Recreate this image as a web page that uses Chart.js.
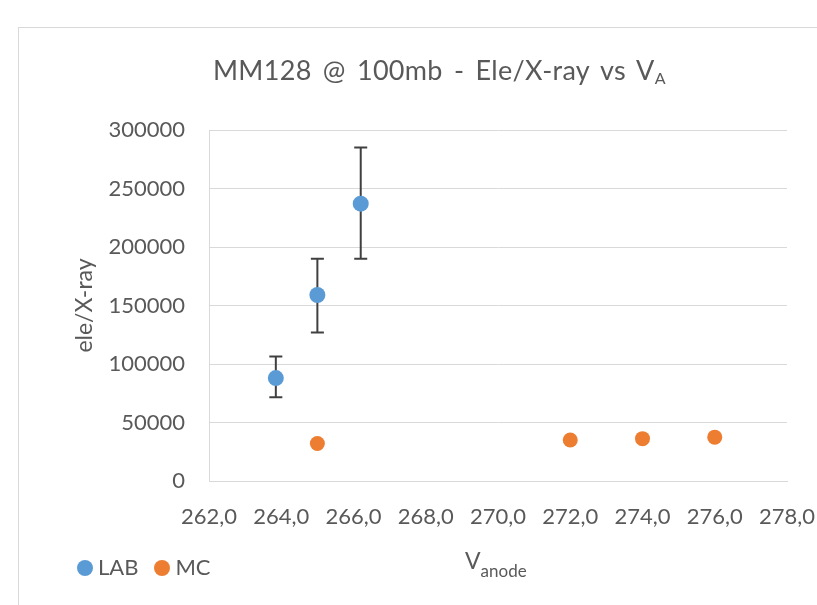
<!DOCTYPE html>
<html>
<head>
<meta charset="utf-8">
<script src="https://cdn.jsdelivr.net/npm/chart.js@4"></script>
<style>
  html, body { margin: 0; padding: 0; background: #fff; overflow: hidden; }
  #wrap { position: relative; width: 817px; height: 605px; font-family: Lato, "Open Sans", sans-serif; color: #595959; }
  #frame { position: absolute; left: 18px; top: 27px; width: 900px; height: 700px; border: 1px solid #d9d9d9; box-sizing: border-box; }
  canvas { position: absolute; left: 0; top: 0; }
  .title { position: absolute; left: 213px; top: 56px; font-size: 27px; line-height: 27px; word-spacing: 4px; letter-spacing: 0.3px; white-space: nowrap; }
  .title .sub { font-size: 16px; position: relative; top: 4px; }
  .xlabel { position: absolute; left: 465px; top: 549px; font-size: 23px; line-height: 23px; white-space: nowrap; }
  .xlabel .sub { font-size: 17px; position: relative; top: 8px; }
  .legend { position: absolute; left: 77px; top: 555px; font-size: 22px; line-height: 24px; white-space: nowrap; }
  .legend .item { display: inline-block; margin-right: 16px; }
  .legend .dot { display: inline-block; width: 16px; height: 16px; border-radius: 50%; vertical-align: -1px; margin-right: 5px; }
</style>
</head>
<body>
<div id="wrap">
  <div id="frame"></div>
  <canvas id="chart" width="817" height="605"></canvas>
  <div class="title">MM128 @ 100mb - Ele/X-ray vs V<span class="sub">A</span></div>
  <div class="xlabel">V<span class="sub">anode</span></div>
  <div class="legend" id="legend"></div>
</div>
<script>
// LAB series (with asymmetric error bars)
const labX = [263.85, 265.0, 266.2];
const labY = [88000, 159000, 237000];
const labErrHigh = [106500, 190000, 285000];
const labErrLow = [71500, 127000, 190000];

// MC series
const mcX = [265.0, 272.0, 274.0, 276.0];
const mcY = [32000, 35000, 36200, 37500];

const X_MIN = 262, X_MAX = 278, X_STEP = 2;
const Y_MIN = 0, Y_MAX = 300000, Y_STEP = 50000;

const LAB_COLOR = "#5b9bd5";
const MC_COLOR = "#ed7d31";
const ERR_COLOR = "#404040";
const TEXT_COLOR = "#595959";
const GRID_COLOR = "#d9d9d9";

const toPoints = (xs, ys) => xs.map((x, i) => ({ x, y: ys[i] }));

/** Draws the LAB error bars through the chart scales, underneath the markers. */
const errorBars = {
  id: "errorBars",
  beforeDatasetsDraw(chart) {
    const { ctx, scales: { x, y } } = chart;
    const cap = 6.5;
    ctx.save();
    ctx.strokeStyle = ERR_COLOR;
    ctx.lineWidth = 2;
    labX.forEach((v, i) => {
      const px = x.getPixelForValue(v);
      const top = y.getPixelForValue(labErrHigh[i]);
      const bot = y.getPixelForValue(labErrLow[i]);
      ctx.beginPath();
      ctx.moveTo(px, top); ctx.lineTo(px, bot);
      ctx.moveTo(px - cap, top); ctx.lineTo(px + cap, top);
      ctx.moveTo(px - cap, bot); ctx.lineTo(px + cap, bot);
      ctx.stroke();
    });
    ctx.restore();
  },
};

const datasets = [
  { label: "LAB", data: toPoints(labX, labY), backgroundColor: LAB_COLOR, pointRadius: 8, borderWidth: 0 },
  { label: "MC", data: toPoints(mcX, mcY), backgroundColor: MC_COLOR, pointRadius: 7.5, borderWidth: 0 },
];

// simple html legend, built from the datasets
document.getElementById("legend").innerHTML = datasets
  .map((d) => `<span class="item"><span class="dot" style="background:${d.backgroundColor}"></span>${d.label}</span>`)
  .join("");

const tickFont = { family: "Lato, 'Open Sans', sans-serif", size: 22 };

new Chart(document.getElementById("chart"), {
  type: "scatter",
  data: { datasets },
  plugins: [errorBars],
  options: {
    responsive: false,
    animation: false,
    events: [],
    layout: { padding: { left: 0, right: 30, top: 130, bottom: 0 } },
    plugins: { legend: { display: false }, tooltip: { enabled: false } },
    scales: {
      x: {
        type: "linear",
        min: X_MIN,
        max: X_MAX,
        afterFit: (s) => {
          s.height = 124;
          // let the last tick label hang past the plot edge, like the original
          s.paddingRight = 0;
          s.paddingLeft = 0;
        },
        ticks: {
          stepSize: X_STEP,
          color: TEXT_COLOR,
          font: tickFont,
          padding: 23,
          maxRotation: 0,
          callback: (v) => v.toFixed(1).replace(".", ","),
        },
        grid: { display: false, drawTicks: false },
        border: { display: true, color: GRID_COLOR, width: 1 },
      },
      y: {
        type: "linear",
        min: Y_MIN,
        max: Y_MAX,
        afterFit: (s) => { s.width = 209; },
        ticks: {
          stepSize: Y_STEP,
          color: TEXT_COLOR,
          font: tickFont,
          padding: 24,
          callback: (v) => String(v),
        },
        grid: { color: GRID_COLOR, lineWidth: 1, drawTicks: false },
        border: { display: true, color: GRID_COLOR, width: 1 },
        title: {
          display: true,
          text: "ele/X-ray",
          color: TEXT_COLOR,
          font: { family: "Lato, 'Open Sans', sans-serif", size: 23 },
          padding: { top: 71, bottom: 0 },
        },
      },
    },
  },
});
</script>
</body>
</html>
